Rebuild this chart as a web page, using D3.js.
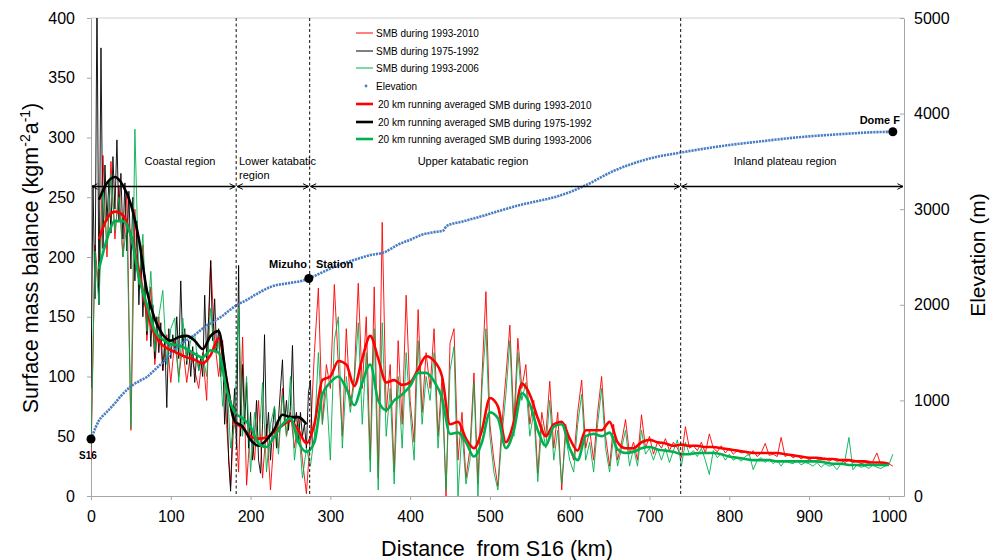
<!DOCTYPE html>
<html>
<head>
<meta charset="utf-8">
<script src="https://cdn.jsdelivr.net/npm/d3@7"></script>
<style>
  body { margin: 0; background: #fff; }
  text { font-family: "Liberation Sans", Arial, sans-serif; }
</style>
</head>
<body>
<svg id="chart" width="998" height="560"></svg>
<script>
// ---- data ----
// thin SMB series on a 5 km grid (0 .. 1005 km)
const smbKm = d3.range(0, 1006, 5);
const smb9310 = [
  30, 210, 170, 285, 200, 280, 215, 260, 200, 255,
  55, 240, 175, 210, 130, 175, 110, 150, 105, 135,
  95, 130, 100, 125, 95, 120, 105, 90, 120, 80,
  197, 130, 100, 130, 60, 8, 75, 20, 133, 9,
  60, 30, 80, 15, 60, 5, 55, 40, 90, 50,
  70, 40, 65, 30, 2, 50, 120, 174, 60, 110,
  90, 177, 110, 50, 140, 75, 100, 178, 90, 150,
  30, 175, 15, 229, 70, 110, 20, 130, 60, 168,
  80, 45, 156, 70, 120, 90, 140, 50, 100, 0,
  128, 140, 30, 70, 15, 40, 103, 10, 100, 171,
  60, 30, 8, 60, 100, 143, 60, 132, 90, 110,
  60, 80, 19, 70, 50, 96, 40, 70, 5, 60,
  40, 30, 70, 97, 40, 55, 30, 70, 100, 50,
  25, 60, 30, 45, 64, 35, 45, 30, 68, 40,
  50, 35, 45, 40, 48, 38, 45, 40, 32, 58,
  40, 42, 38, 45, 36, 52, 40, 37, 42, 36,
  40, 35, 38, 36, 37, 34, 38, 33, 36, 44,
  34, 35, 33, 49, 33, 35, 32, 34, 31, 33,
  30, 32, 31, 30, 32, 29, 31, 29, 30, 28,
  30, 28, 29, 27, 28, 27, 29, 36, 26, 28,
  27, 25
];
const smb9306 = [
  40, 205, 160, 260, 210, 269, 222, 250, 200, 227,
  57, 307, 177, 219, 138, 188, 121, 150, 172, 110,
  140, 149, 95, 149, 113, 130, 135, 105, 118, 100,
  157, 120, 130, 75, 100, 40, 60, 158, 50, 100,
  20, 70, 40, 95, 20, 60, 75, 35, 85, 50,
  100, 30, 60, 15, 40, 25, 50, 120, 60, 90,
  30, 130, 150, 40, 100, 70, 95, 145, 60, 120,
  20, 140, 5, 145, 50, 90, 10, 100, 40, 120,
  70, 30, 130, 60, 100, 80, 120, 40, 90, 5,
  105, 125, 0, 55, 10, 30, 95, 0, 90, 140,
  50, 20, 5, 50, 85, 130, 50, 120, 80, 95,
  50, 70, 12, 60, 40, 80, 30, 55, 10, 50,
  30, 20, 60, 85, 30, 45, 20, 60, 90, 40,
  20, 50, 25, 40, 55, 25, 40, 25, 55, 35,
  40, 30, 40, 30, 40, 28, 38, 47, 25, 45,
  35, 38, 33, 40, 30, 18, 38, 32, 36, 30,
  35, 30, 32, 29, 33, 35, 22, 30, 32, 28,
  31, 27, 30, 25, 30, 28, 27, 30, 26, 28,
  27, 25, 28, 24, 27, 25, 26, 22, 27, 30,
  49, 22, 26, 24, 25, 23, 26, 24, 23, 25,
  26, 35
];
// 1975-1992 only reaches Mizuho, 2.5 km grid
const blackKm = d3.range(0, 278, 2.5);
const smb7592 = [
  90, 260, 165, 420, 160, 375, 207, 277, 230, 264,
  220, 284, 240, 298, 230, 270, 215, 262, 205, 255,
  190, 250, 180, 230, 160, 205, 150, 185, 135, 170,
  125, 160, 115, 150, 120, 145, 105, 130, 74, 140,
  115, 135, 120, 150, 115, 180, 125, 140, 110, 130,
  100, 125, 95, 120, 105, 115, 100, 168, 115, 150,
  197, 130, 165, 120, 140, 100, 120, 60, 90, 30,
  4, 60, 90, 40, 193, 50, 110, 60, 95, 40,
  70, 30, 50, 80, 30, 19, 60, 135, 50, 70,
  30, 55, 75, 40, 65, 90, 114, 60, 80, 55,
  75, 126, 60, 70, 45, 70, 50, 60, 40, 86,
  97, 40
];

// 20 km running averages, 10 km grid
const avgKm = d3.range(10, 1001, 10);
const avg9310 = [
  215, 232, 238, 235, 218, 188, 155, 135, 126, 122,
  119, 116, 114, 111, 118, 132, 97, 62, 57, 50,
  48, 49, 54, 59, 63, 55, 44, 60, 97, 100,
  113, 110, 92, 115, 134, 115, 95, 97, 93, 95,
  106, 117, 113, 100, 60, 62, 48, 40, 55, 82,
  75, 45, 62, 94, 85, 65, 50, 60, 62, 48,
  38, 55, 55, 55, 62, 45, 40, 40, 45, 47,
  45, 44, 42, 43, 42, 42, 41, 41, 40, 39,
  38, 37, 36, 36, 36, 36, 35, 34, 33, 32,
  32, 31, 31, 30, 30, 29, 29, 28, 28, 27
];
const avg9306 = [
  190, 215, 230, 230, 218, 183, 160, 138, 131, 127,
  126, 123, 119, 116, 122, 120, 89, 70, 65, 58,
  44, 41, 50, 60, 65, 45, 37, 45, 85, 95,
  100, 90, 76, 95, 110, 80, 72, 80, 85, 92,
  103, 103, 96, 82, 52, 53, 45, 33, 45, 70,
  65, 40, 55, 86, 77, 55, 42, 58, 60, 40,
  30, 50, 52, 50, 53, 39, 36, 37, 40, 41,
  39, 38, 37, 35, 35, 36, 36, 36, 35, 33,
  32, 31, 30, 30, 30, 29, 29, 29, 29, 29,
  29, 28, 27, 27, 26, 26, 26, 26, 26, 26
];
const blackAvgKm = d3.range(10, 271, 10);
const avg7592 = [
  248, 262, 267, 260, 244, 215, 172, 148, 135, 130,
  133, 134, 130, 123, 134, 138, 96, 63, 58, 47,
  42, 47, 56, 68, 66, 66, 60
];

// elevation profile (m)
const elevKm = [0, 3, 6, 10, 15, 20, 28, 38, 49, 60, 70, 80, 90, 100, 111, 122, 133, 143, 153, 164,
  174, 183, 195, 205, 226, 250, 268, 273, 290, 310, 330, 350, 368, 385, 400, 414, 430, 441, 446, 465,
  487, 511, 538, 560, 587, 620, 655, 700, 741, 790, 840, 890, 940, 980, 1005];
const elevM = [596, 660, 720, 790, 840, 880, 952, 1050, 1140, 1200, 1245, 1320, 1400, 1490, 1580, 1640, 1705, 1771, 1820, 1880,
  1945, 1998, 2050, 2100, 2190, 2230, 2259, 2275, 2340, 2416, 2470, 2520, 2550, 2630, 2680, 2730, 2760, 2775, 2825, 2870,
  2920, 2980, 3045, 3085, 3140, 3250, 3400, 3530, 3595, 3660, 3710, 3755, 3785, 3805, 3810];

// region boundaries (km) and labels
const boundaries = [182, 274, 739];
const regionNames = ["Coastal region", "Lower katabatic region", "Upper katabatic region", "Inland plateau region"];
const arrowLevel = 259; // SMB units

// stations
const stationNames = ["S16", "Mizuho", "Dome F"];
const stationKm = [0, 273, 1005];
const stationElev = [596, 2275, 3810];

// ticks
const smbTicks = d3.range(0, 401, 50);
const elevTicks = d3.range(0, 5001, 1000);
const kmTicks = d3.range(0, 1001, 100);

// legend
const legendLabels = ["SMB during 1993-2010", "SMB during 1975-1992", "SMB during 1993-2006", "Elevation",
  "SMB during 1993-2010", "SMB during 1975-1992", "SMB during 1993-2006"];

// ---- drawing ----
const svg = d3.select("#chart");
const x = d3.scaleLinear().domain([0, 1019]).range([91, 904]);
const y = d3.scaleLinear().domain([0, 400]).range([496, 18]);
const yElev = d3.scaleLinear().domain([0, 5000]).range([496, 18]);

const RED = "#ff0000", BLACK = "#000000", GREEN = "#00b050", BLUE = "#4a7ec4";
const AXIS = "#a6a6a6";

const defs = svg.append("defs");
defs.append("clipPath").attr("id", "plotClip")
  .append("rect").attr("x", 91).attr("y", 18).attr("width", 813).attr("height", 478);
defs.append("marker")
  .attr("id", "arr")
  .attr("viewBox", "0 0 10 10")
  .attr("refX", 9).attr("refY", 5)
  .attr("markerWidth", 7).attr("markerHeight", 7)
  .attr("markerUnits", "userSpaceOnUse")
  .attr("orient", "auto-start-reverse")
  .append("path").attr("d", "M1,1 L9,5 L1,9").attr("fill", "none").attr("stroke", "#000").attr("stroke-width", 1.4);

// frame top line
svg.append("line").attr("x1", 91).attr("x2", 904).attr("y1", 18).attr("y2", 18)
  .attr("stroke", "#d0d0d0").attr("stroke-width", 1);

// axes
const styleAxis = g => {
  g.select(".domain").attr("stroke", AXIS);
  g.selectAll(".tick line").attr("stroke", AXIS);
  g.selectAll(".tick text").attr("fill", "#000").attr("font-size", 16)
    .attr("font-family", "'Liberation Sans', Arial, sans-serif");
};
svg.append("g").attr("transform", "translate(91,0)")
  .call(d3.axisLeft(y).tickValues(smbTicks).tickSizeInner(4).tickSizeOuter(0).tickPadding(12))
  .call(styleAxis);
svg.append("g").attr("transform", "translate(904,0)")
  .call(d3.axisRight(yElev).tickValues(elevTicks).tickFormat(d3.format("d"))
    .tickSizeInner(-4).tickSizeOuter(0).tickPadding(10))
  .call(styleAxis);
svg.append("g").attr("transform", "translate(0,496)")
  .call(d3.axisBottom(x).tickValues(kmTicks).tickFormat(d3.format("d"))
    .tickSizeInner(4).tickSizeOuter(0).tickPadding(11))
  .call(styleAxis);

const plot = svg.append("g").attr("clip-path", "url(#plotClip)");

const thinLine = (kms, vals) => d3.line().x((d, i) => x(kms[i])).y(d => y(d))(vals);
const smoothLine = (kms, vals) => d3.line().curve(d3.curveMonotoneX).x((d, i) => x(kms[i])).y(d => y(d))(vals);

// thin series
[[smbKm, smb9310, RED], [blackKm, smb7592, BLACK], [smbKm, smb9306, GREEN]].forEach(([k, v, c]) => {
  plot.append("path").attr("d", thinLine(k, v)).attr("fill", "none")
    .attr("stroke", c).attr("stroke-width", 1).attr("stroke-opacity", 0.9).attr("stroke-linejoin", "round");
});

// elevation (dense dots)
plot.append("path")
  .attr("d", d3.line().curve(d3.curveMonotoneX).x((d, i) => x(elevKm[i])).y(d => yElev(d))(elevM))
  .attr("fill", "none").attr("stroke", BLUE).attr("stroke-width", 2.6)
  .attr("stroke-dasharray", "2.2,0.9");

// running averages
[[avgKm, avg9310, RED], [blackAvgKm, avg7592, BLACK], [avgKm, avg9306, GREEN]].forEach(([k, v, c]) => {
  plot.append("path").attr("d", smoothLine(k, v)).attr("fill", "none")
    .attr("stroke", c).attr("stroke-width", 2.6).attr("stroke-linejoin", "round");
});

// region boundaries
svg.selectAll(".bound").data(boundaries).enter().append("line")
  .attr("class", "bound")
  .attr("x1", d => x(d)).attr("x2", d => x(d))
  .attr("y1", 18).attr("y2", 496)
  .attr("stroke", "#333").attr("stroke-width", 1.2).attr("stroke-dasharray", "3,2.5");

// region arrows
const edges = [0, ...boundaries, 1019];
for (let i = 0; i < edges.length - 1; i++) {
  svg.append("line")
    .attr("x1", x(edges[i]) + 1).attr("x2", x(edges[i + 1]) - 1)
    .attr("y1", y(arrowLevel)).attr("y2", y(arrowLevel))
    .attr("stroke", "#000").attr("stroke-width", 1.4)
    .attr("marker-start", "url(#arr)").attr("marker-end", "url(#arr)");
}

// region labels
const regionText = svg.append("g").attr("font-size", 11).attr("fill", "#000");
regionText.append("text").attr("x", 180).attr("y", 165).attr("text-anchor", "middle").text(regionNames[0]);
const lk = regionText.append("text").attr("x", 239).attr("y", 165);
lk.append("tspan").text("Lower katabatic");
lk.append("tspan").attr("x", 239).attr("dy", 14).text("region");
regionText.append("text").attr("x", 473).attr("y", 165).attr("text-anchor", "middle").text(regionNames[2]);
regionText.append("text").attr("x", 785).attr("y", 165).attr("text-anchor", "middle").text(regionNames[3]);

// stations
svg.selectAll(".stn").data(stationKm).enter().append("circle")
  .attr("class", "stn")
  .attr("cx", d => x(d)).attr("cy", (d, i) => yElev(stationElev[i]))
  .attr("r", 4.5).attr("fill", "#000");
const stn = svg.append("g").attr("font-size", 11).attr("font-weight", "bold").attr("fill", "#000");
stn.append("text").attr("x", x(0) - 3).attr("y", yElev(596) + 20).attr("text-anchor", "middle")
  .attr("font-size", 10).text(stationNames[0]);
stn.append("text").attr("x", 307).attr("y", 268).attr("text-anchor", "end").text(stationNames[1]);
stn.append("text").attr("x", 316).attr("y", 268).text("Station");
stn.append("text").attr("x", 900).attr("y", 124).attr("text-anchor", "end").text(stationNames[2]);

// legend
const legendY = [33, 51, 68, 86, 104, 122, 139];
const legendColor = [RED, BLACK, GREEN, BLUE, RED, BLACK, GREEN];
const legend = svg.append("g").attr("font-size", 10).attr("fill", "#000");
legendLabels.forEach((lab, i) => {
  const ly = legendY[i];
  if (i === 3) {
    legend.append("circle").attr("cx", 366).attr("cy", ly).attr("r", 1.4).attr("fill", BLUE);
  } else {
    legend.append("line").attr("x1", 356).attr("x2", 373).attr("y1", ly).attr("y2", ly)
      .attr("stroke", legendColor[i]).attr("stroke-width", i > 3 ? 2.6 : 1);
  }
  const t = legend.append("text").attr("y", ly + 3.5);
  if (i > 3) {
    t.attr("x", 378);
    t.append("tspan").text("20 km running averaged ");
    t.append("tspan").attr("dy", 1.5).text(lab);
  } else {
    t.attr("x", 376).text(lab);
  }
});

// axis titles
svg.append("text")
  .attr("transform", "translate(38,258) rotate(-90)")
  .attr("text-anchor", "middle").attr("font-size", 21.5).attr("fill", "#000")
  .call(t => {
    t.append("tspan").text("Surface mass balance (kgm");
    t.append("tspan").attr("font-size", 14).attr("dy", -8).text("-2");
    t.append("tspan").attr("dy", 8).text("a");
    t.append("tspan").attr("font-size", 14).attr("dy", -8).text("-1");
    t.append("tspan").attr("dy", 8).text(")");
  });
svg.append("text")
  .attr("transform", "translate(985,255) rotate(-90)")
  .attr("text-anchor", "middle").attr("font-size", 21).attr("fill", "#000")
  .text("Elevation (m)");
svg.append("text")
  .attr("x", 497).attr("y", 556)
  .attr("text-anchor", "middle").attr("font-size", 21.5).attr("fill", "#000")
  .style("white-space", "pre")
  .text("Distance  from S16 (km)");
</script>
</body>
</html>
